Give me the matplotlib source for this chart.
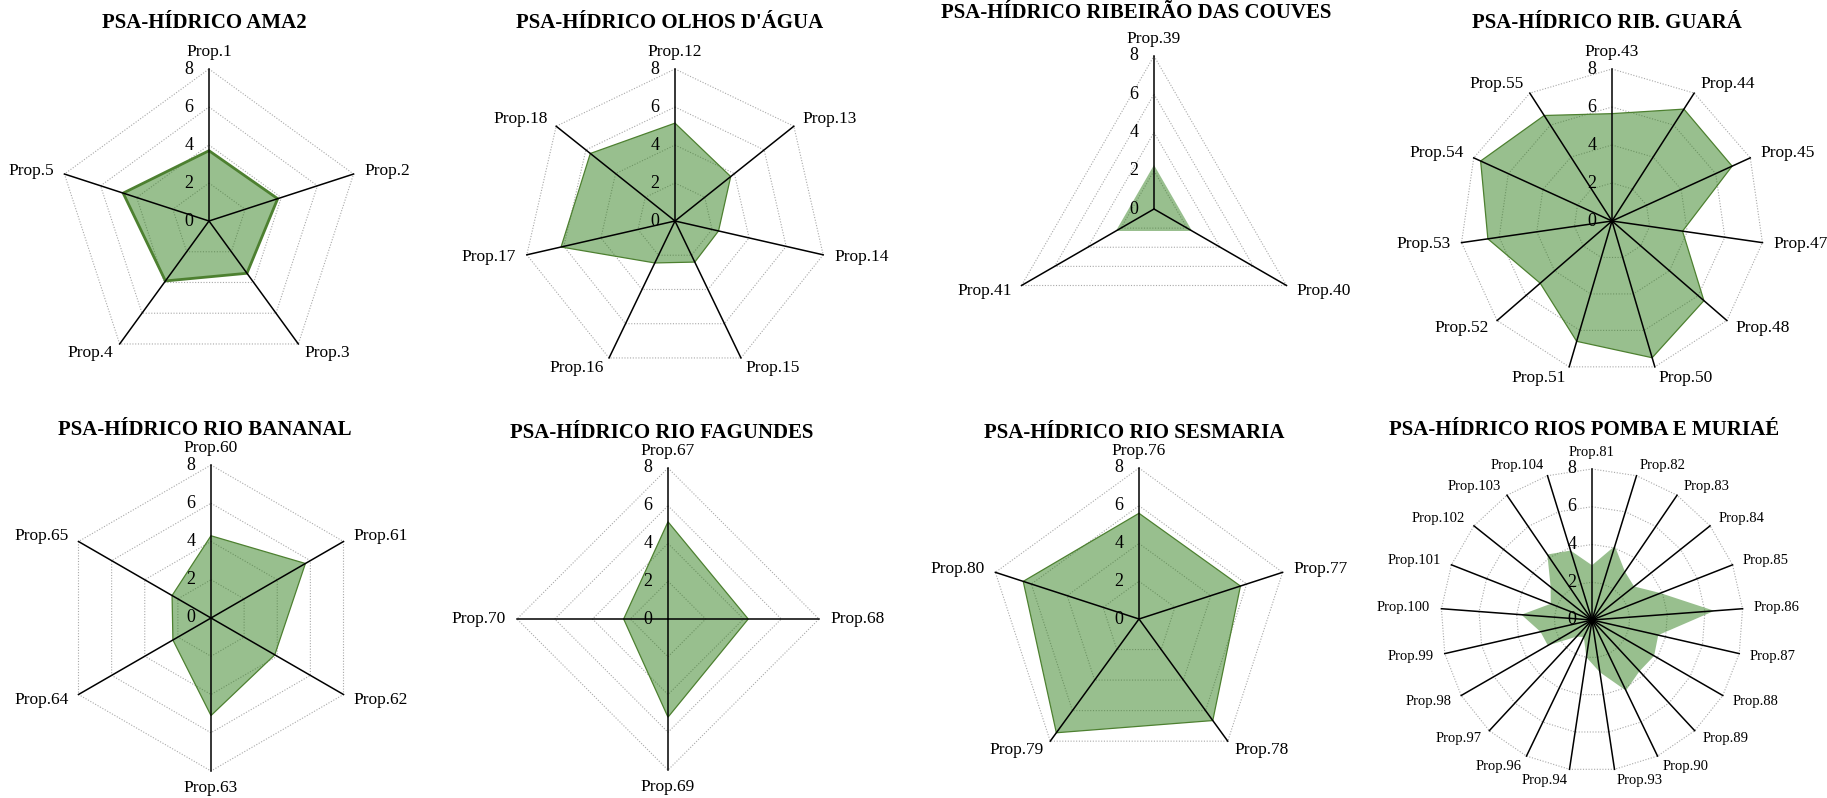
import numpy as np
import matplotlib
import matplotlib.pyplot as plt

matplotlib.use('Agg')
plt.rcParams['font.family'] = ['Liberation Serif', 'DejaVu Serif']

# dados (escala 0-8)
titulos = ['PSA-HÍDRICO AMA2', "PSA-HÍDRICO OLHOS D'ÁGUA",
           'PSA-HÍDRICO RIBEIRÃO DAS COUVES', 'PSA-HÍDRICO RIB. GUARÁ',
           'PSA-HÍDRICO RIO BANANAL', 'PSA-HÍDRICO RIO FAGUNDES',
           'PSA-HÍDRICO RIO SESMARIA', 'PSA-HÍDRICO RIOS POMBA E MURIAÉ']

props_ama2 = [1, 2, 3, 4, 5]
vals_ama2 = [3.7, 3.8, 3.4, 3.9, 4.75]

props_olhos = [12, 13, 14, 15, 16, 17, 18]
vals_olhos = [5.15, 3.75, 2.35, 2.4, 2.45, 6.15, 5.7]

props_couves = [39, 40, 41]
vals_couves = [2.3, 2.3, 2.3]

props_guara = [43, 44, 45, 47, 48, 50, 51, 52, 53, 54, 55]
vals_guara = [5.65, 7.0, 6.95, 3.75, 6.4, 7.5, 6.6, 5.0, 6.6, 7.6, 6.6]

props_bananal = [60, 61, 62, 63, 64, 65]
vals_bananal = [4.3, 5.7, 3.85, 5.1, 2.3, 2.35]

props_fagundes = [67, 68, 69, 70]
vals_fagundes = [5.15, 4.25, 5.2, 2.35]

props_sesmaria = [76, 77, 78, 79, 80]
vals_sesmaria = [5.6, 5.65, 6.65, 7.45, 6.45]

props_pomba = [81, 82, 83, 84, 85, 86, 87, 88, 89, 90, 93, 94, 96, 97, 98,
               99, 100, 101, 102, 103, 104]
vals_pomba = [2.9, 4.1, 3.1, 2.85, 3.9, 6.5, 3.6, 3.8, 3.7, 4.15, 2.8, 2.0,
              1.0, 1.2, 2.7, 2.8, 3.75, 2.35, 2.8, 4.2, 3.85]

niveis = [0, 2, 4, 6, 8]
vmax = 8

dados = [(props_ama2, vals_ama2), (props_olhos, vals_olhos),
         (props_couves, vals_couves), (props_guara, vals_guara),
         (props_bananal, vals_bananal), (props_fagundes, vals_fagundes),
         (props_sesmaria, vals_sesmaria), (props_pomba, vals_pomba)]

# posicoes em pixels: centro x, centro y, raio, titulo x, titulo y, fonte rotulos, borda
layout = [(209, 221, 152, 204, 23, 12.5, 2.0),
          (675, 221, 152, 670, 23, 12.5, 0.9),
          (1154, 209, 153, 1136, 13, 12.5, 0.0),
          (1612, 221, 152, 1607, 23, 12.5, 0.9),
          (211, 618, 153, 205, 430, 12.5, 0.9),
          (668, 619, 151, 662, 433, 12.5, 0.9),
          (1139, 619, 151, 1134, 433, 12.5, 0.9),
          (1592, 620, 151, 1584, 430, 10.5, 0.0)]

W, H = 1827, 798
fig = plt.figure(figsize=(W / 100, H / 100), dpi=100)

for (props, vals), titulo, (cx, cy, R, tx, ty, fs, elw) in zip(dados, titulos, layout):
    half = 1.5 * R
    ax = fig.add_axes([(cx - half) / W, 1 - (cy + half) / H, 2 * half / W, 2 * half / H])
    ax.set_xlim(-1.5, 1.5)
    ax.set_ylim(-1.5, 1.5)
    ax.axis('off')

    n = len(props)
    ang = np.arange(n) * 2 * np.pi / n
    sx, sy = np.sin(ang), np.cos(ang)

    # grade poligonal pontilhada
    for lev in niveis[1:]:
        r = lev / vmax
        ax.plot(np.append(sx, sx[0]) * r, np.append(sy, sy[0]) * r,
                color='#a8a8a8', lw=0.8, ls=(0, (1, 1.5)), zorder=1)
    # eixos
    for i in range(n):
        ax.plot([0, sx[i]], [0, sy[i]], color='black', lw=1.1, zorder=3)

    r = np.array(vals) / vmax
    ec = '#4d8030' if elw > 0 else 'none'
    ax.fill(r * sx, r * sy, facecolor=(0.2, 0.5, 0.12, 0.5), edgecolor=ec,
            lw=max(elw, 0.01), zorder=2)

    # rotulos das propriedades
    for i in range(n):
        if abs(sx[i]) < 0.05:
            ha = 'center'
            pad = 12
        else:
            ha = 'left' if sx[i] > 0 else 'right'
            pad = 8
        ax.annotate('Prop.%d' % props[i], xy=(sx[i], sy[i]),
                    xytext=(pad * sx[i], pad * sy[i]), textcoords='offset points',
                    ha=ha, va='center', fontsize=fs, annotation_clip=False)

    # valores da escala
    for lev in niveis:
        ax.annotate(str(lev), xy=(0, lev / vmax), xytext=(-11, 0),
                    textcoords='offset points', ha='right', va='center',
                    fontsize=13, zorder=4)

    fig.text(tx / W, 1 - ty / H, titulo, ha='center', va='center',
             fontsize=15, fontweight='bold')

plt.savefig('out.png', dpi=100)
plt.close()
